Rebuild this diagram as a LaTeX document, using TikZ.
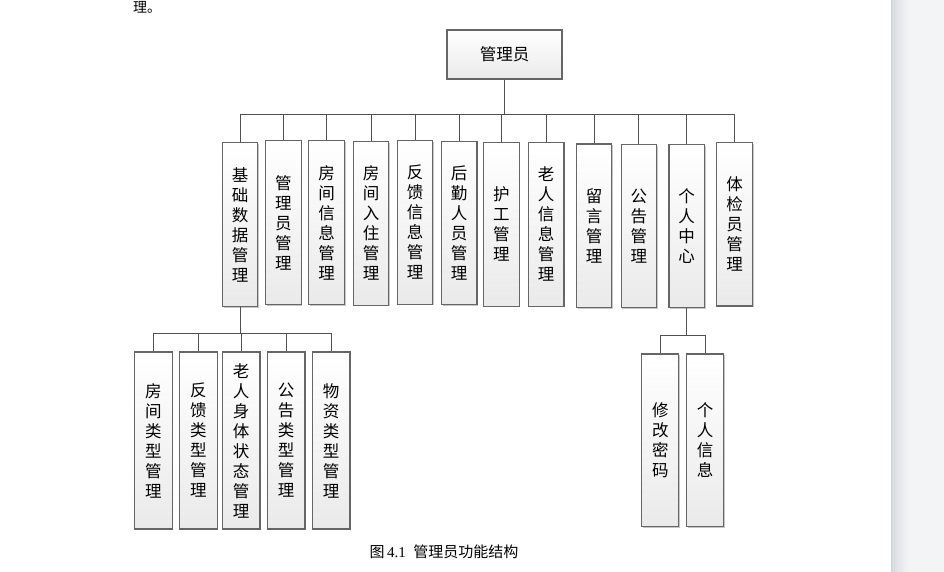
\documentclass[tikz,border=0pt]{standalone}
\usepackage{fontspec}
\setmainfont{Liberation Serif}
\newfontfamily\cjk{Noto Sans CJK SC}
\usetikzlibrary{shadows}
\definecolor{boxline}{HTML}{666666}
\definecolor{boxbot}{HTML}{EAEAEA}
\definecolor{connline}{HTML}{505050}
\definecolor{panelA}{HTML}{D9DADD}
\definecolor{panelB}{HTML}{F3F4F6}
\begin{document}
\begin{tikzpicture}[x=1pt,y=-1pt,
  boxst/.style={draw=boxline, line width=1.1pt, top color=white, bottom color=boxbot,
    inner sep=0pt, align=center, font=\cjk\fontsize{16.5}{20}\selectfont,
    drop shadow={shadow xshift=1.3pt, shadow yshift=-1.3pt, fill=black, opacity=0.22}},
  tb/.style={boxst, minimum width=35.5pt, minimum height=163.5pt},
  lb/.style={boxst, minimum width=37.5pt, minimum height=177pt},
  rb/.style={boxst, minimum width=37pt, minimum height=172.5pt},
  conn/.style={draw=connline, line width=0.9pt}]
\useasboundingbox (0,0) rectangle (944,572);
\fill[white] (0,0) rectangle (944,572);
% right grey panel
\shade[left color=panelA, right color=panelB] (891,0) rectangle (908,572);
\fill[panelB] (908,0) rectangle (944,572);
\draw[color=black!18, line width=0.6pt] (891,0) -- (891,572);
% text at top
\node[anchor=base west, inner sep=0pt, font=\cjk\fontsize{14}{16}\selectfont] (prev) at (133,12.5) {理。};
% root
\node[boxst, minimum width=115pt, minimum height=49pt] (root) at (504.5,54.5) {管理员};
% top row
\node[tb] (b1)  at (240,224.5) {基\\础\\数\\据\\管\\理};
\node[tb] (b2)  at (283.4,222.7) {管\\理\\员\\管\\理};
\node[tb] (b3)  at (326.5,222.5) {房\\间\\信\\息\\管\\理};
\node[tb] (b4)  at (371,223.3) {房\\间\\入\\住\\管\\理};
\node[tb] (b5)  at (415,222.3) {反\\馈\\信\\息\\管\\理};
\node[tb] (b6)  at (459.2,223) {后\\勤\\人\\员\\管\\理};
\node[tb] (b7)  at (501.3,224.3) {护\\工\\管\\理};
\node[tb] (b8)  at (546.2,224.3) {老\\人\\信\\息\\管\\理};
\node[tb] (b9)  at (594,225.8) {留\\言\\管\\理};
\node[tb] (b10) at (638.8,226) {公\\告\\管\\理};
\node[tb] (b11) at (686.7,226) {个\\人\\中\\心};
\node[tb] (b12) at (734.5,224.2) {体\\检\\员\\管\\理};
% lower left
\node[lb] (c1) at (153.3,440.5) {房\\间\\类\\型\\管\\理};
\node[lb] (c2) at (198.3,440.5) {反\\馈\\类\\型\\管\\理};
\node[lb] (c3) at (241.2,440.5) {老\\人\\身\\体\\状\\态\\管\\理};
\node[lb] (c4) at (286.2,440.5) {公\\告\\类\\型\\管\\理};
\node[lb] (c5) at (331.2,440.5) {物\\资\\类\\型\\管\\理};
% lower right
\node[rb] (d1) at (660.3,440.2) {修\\改\\密\\码};
\node[rb] (d2) at (705,440.2) {个\\人\\信\\息};
% bus coordinates
\coordinate (busA) at (0,114.3);
\coordinate (busB) at (0,333.3);
\coordinate (busC) at (0,335.3);
% connectors: root to top row
\draw[conn] (root.south) -- (root.south |- busA);
\draw[conn] (b1.north |- busA) -- (b12.north |- busA);
\foreach \n in {b1,b2,b3,b4,b5,b6,b7,b8,b9,b10,b11,b12}
  \draw[conn] (\n.north) -- (\n.north |- busA);
% b1 to lower left
\draw[conn] (b1.south) -- (b1.south |- busB);
\draw[conn] (c1.north |- busB) -- (c5.north |- busB);
\foreach \n in {c1,c2,c3,c4,c5}
  \draw[conn] (\n.north) -- (\n.north |- busB);
% b11 to lower right
\draw[conn] (b11.south) -- (b11.south |- busC);
\draw[conn] (d1.north |- busC) -- (d2.north |- busC);
\foreach \n in {d1,d2}
  \draw[conn] (\n.north) -- (\n.north |- busC);
% caption
\node[inner sep=0pt, font=\fontsize{15}{17}\selectfont] (cap) at (444,552) {{\cjk 图}\,4.1\enspace{\cjk 管理员功能结构}};
\end{tikzpicture}
\end{document}
